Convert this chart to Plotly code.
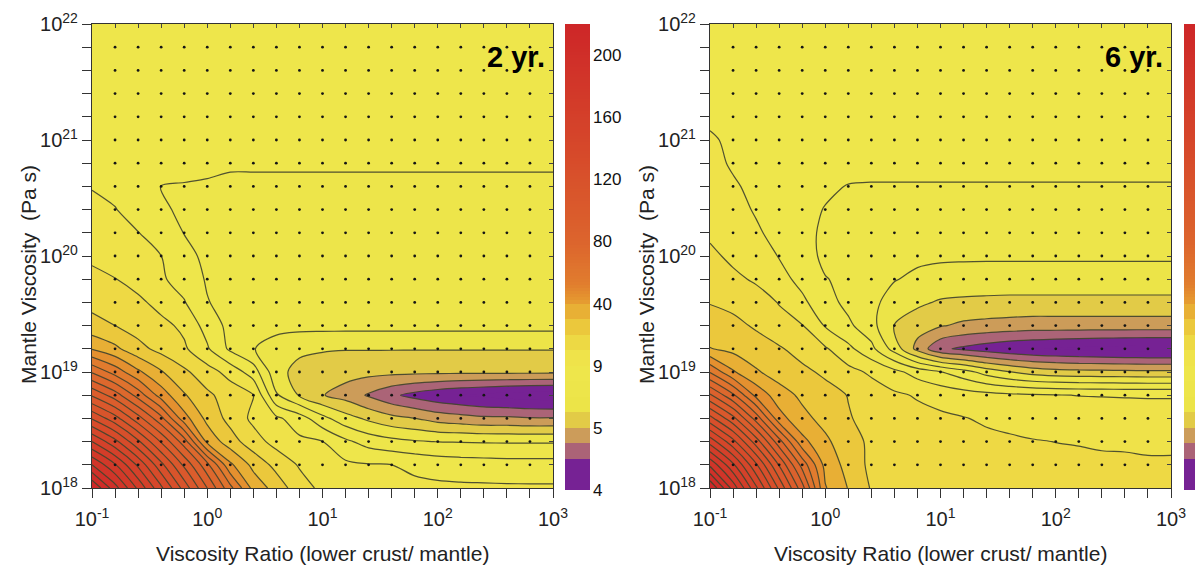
import numpy as np
import plotly.graph_objects as go

# Model grid: exponents of viscosity ratio (lower crust / mantle) and mantle viscosity (Pa s)
RATIO_EXP = [-1.0, -0.8, -0.6, -0.4, -0.2, 0.0, 0.2, 0.4, 0.6, 0.8, 1.0,
             1.2, 1.4, 1.6, 1.8, 2.0, 2.2, 2.4, 2.6, 2.8, 3.0]
MANTLE_EXP = [18.0, 18.2, 18.4, 18.6, 18.8, 19.0, 19.2, 19.4, 19.6, 19.8, 20.0,
              20.2, 20.4, 20.6, 20.8, 21.0, 21.2, 21.4, 21.6, 21.8, 22.0]

# Colour-bar anchor values (equally spaced on the bar)
CBAR_VALUES = [4, 5, 9, 40, 80, 120, 160, 200]

# Misfit after 2 years, rows = mantle viscosity (low -> high), cols = viscosity ratio (low -> high)
MISFIT_2YR = [
    [220, 194, 168, 142, 116, 90, 63, 37.5, 29, 20, 15, 12.5, 11.5, 11, 10.7, 10.5, 10.3, 10.2, 10.1, 10, 10],
    [190, 171, 148, 123, 98, 73, 42, 30, 22, 16, 12.5, 10.5, 9.5, 9.0, 8.8, 8.6, 8.5, 8.45, 8.4, 8.4, 8.4],
    [160, 143, 122, 99, 75, 38, 28, 20, 14, 10.5, 9.1, 8.2, 7.6, 7.3, 7.1, 6.98, 6.95, 6.92, 6.9, 6.9, 6.9],
    [129, 114, 94, 73, 44, 30, 22, 15, 10.5, 8.5, 7.3, 6.4, 5.8, 5.3, 5.02, 4.9, 4.85, 4.8, 4.8, 4.77, 4.77],
    [99, 85, 66, 45.5, 33, 26, 21, 17, 7.1, 5.9, 5.05, 4.9, 4.72, 4.55, 4.42, 4.32, 4.25, 4.2, 4.15, 4.12, 4.1],
    [69, 56, 42, 33, 26, 20, 14, 8.5, 6.3, 5.7, 5.45, 5.35, 5.3, 5.25, 5.22, 5.2, 5.2, 5.2, 5.2, 5.2, 5.2],
    [39.5, 34, 27, 22, 18, 10, 7.8, 7.05, 6.5, 6.2, 6.1, 6.05, 6.05, 6.05, 6.05, 6.05, 6.05, 6.05, 6.05, 6.05, 6.05],
    [27, 24.5, 21, 19, 15, 8.6, 7.7, 7.45, 7.35, 7.3, 7.3, 7.3, 7.3, 7.3, 7.3, 7.3, 7.3, 7.3, 7.3, 7.3, 7.3],
    [22.5, 21, 18.5, 14, 9.5, 8.05, 7.65, 7.55, 7.5, 7.5, 7.5, 7.5, 7.5, 7.5, 7.5, 7.5, 7.5, 7.5, 7.5, 7.5, 7.5],
    [18.5, 17, 13.5, 10, 8.6, 7.9, 7.7, 7.6, 7.6, 7.6, 7.6, 7.6, 7.6, 7.6, 7.6, 7.6, 7.6, 7.6, 7.6, 7.6, 7.6],
    [15.5, 13, 10.5, 9.05, 8.2, 7.85, 7.72, 7.68, 7.68, 7.68, 7.68, 7.68, 7.68, 7.68, 7.68, 7.68, 7.68, 7.68, 7.68, 7.68, 7.68],
    [13, 11, 9.2, 8.5, 7.98, 7.8, 7.75, 7.75, 7.75, 7.75, 7.75, 7.75, 7.75, 7.75, 7.75, 7.75, 7.75, 7.75, 7.75, 7.75, 7.75],
    [11, 9.3, 8.6, 8.1, 7.88, 7.84, 7.82, 7.82, 7.82, 7.82, 7.82, 7.82, 7.82, 7.82, 7.82, 7.82, 7.82, 7.82, 7.82, 7.82, 7.82],
    [8.95, 8.75, 8.4, 7.99, 7.97, 7.95, 7.92, 7.92, 7.92, 7.92, 7.92, 7.92, 7.92, 7.92, 7.92, 7.92, 7.92, 7.92, 7.92, 7.92, 7.92],
    [8.85, 8.7, 8.5, 8.25, 8.15, 8.1, 8.05, 8.05, 8.05, 8.05, 8.05, 8.05, 8.05, 8.05, 8.05, 8.05, 8.05, 8.05, 8.05, 8.05, 8.05],
    [8.8, 8.7, 8.5, 8.3, 8.3, 8.3, 8.3, 8.3, 8.3, 8.3, 8.3, 8.3, 8.3, 8.3, 8.3, 8.3, 8.3, 8.3, 8.3, 8.3, 8.3],
    [8.8, 8.7, 8.6, 8.5, 8.5, 8.5, 8.5, 8.5, 8.5, 8.5, 8.5, 8.5, 8.5, 8.5, 8.5, 8.5, 8.5, 8.5, 8.5, 8.5, 8.5],
    [8.8, 8.7, 8.6, 8.5, 8.5, 8.5, 8.5, 8.5, 8.5, 8.5, 8.5, 8.5, 8.5, 8.5, 8.5, 8.5, 8.5, 8.5, 8.5, 8.5, 8.5],
    [8.8, 8.7, 8.6, 8.5, 8.5, 8.5, 8.5, 8.5, 8.5, 8.5, 8.5, 8.5, 8.5, 8.5, 8.5, 8.5, 8.5, 8.5, 8.5, 8.5, 8.5],
    [8.8, 8.7, 8.6, 8.5, 8.5, 8.5, 8.5, 8.5, 8.5, 8.5, 8.5, 8.5, 8.5, 8.5, 8.5, 8.5, 8.5, 8.5, 8.5, 8.5, 8.5],
    [8.8, 8.7, 8.6, 8.5, 8.5, 8.5, 8.5, 8.5, 8.5, 8.5, 8.5, 8.5, 8.5, 8.5, 8.5, 8.5, 8.5, 8.5, 8.5, 8.5, 8.5],
]

# Misfit after 6 years
MISFIT_6YR = [
    [220, 186, 152, 118, 84, 40.8, 31.9, 23.9, 21.4, 20.5, 19.85, 19.5, 19.2, 19.2, 19.0, 19.0, 18.9, 18.9, 18.9, 18.9, 18.9],
    [188, 162, 131.6, 99.2, 66.4, 37.5, 29.5, 22.6, 20.8, 19.85, 19.2, 18.9, 18.6, 18.3, 18.3, 18.0, 18.0, 17.7, 17.7, 17.4, 17.4],
    [156, 133.2, 105.2, 74, 43.2, 33.8, 27.6, 23.0, 20.8, 19.85, 19.2, 18.6, 18.3, 17.7, 17.06, 16.69, 16.44, 16.13, 15.98, 15.8, 15.8],
    [123.6, 103.2, 76, 44, 34.4, 29.8, 25.1, 22.0, 20.2, 18.9, 18.0, 17.06, 15.8, 14.9, 14.3, 13.65, 13.3, 13.0, 12.7, 12.7, 12.7],
    [91.6, 72, 47.2, 35.7, 30.7, 27.6, 24.2, 20.8, 18.0, 16.1, 14.3, 12.7, 11.5, 10.55, 9.93, 9.31, 8.98, 8.96, 8.94, 8.92, 8.92],
    [59.2, 41.2, 33.2, 28.8, 26.4, 23.0, 19.2, 15.5, 11.2, 8.6, 8.04, 7.4, 6.6, 6.04, 5.6, 5.4, 5.32, 5.28, 5.24, 5.2, 5.2],
    [32.6, 30.1, 27.6, 25.4, 21.4, 17.7, 10.9, 8.28, 6.6, 4.92, 4.55, 4.45, 4.37, 4.3, 4.26, 4.23, 4.2, 4.18, 4.16, 4.15, 4.15],
    [27.6, 26.4, 23.6, 19.2, 17.1, 8.92, 8.2, 7.36, 5.92, 5.4, 5.08, 4.95, 4.92, 4.9, 4.88, 4.88, 4.88, 4.88, 4.88, 4.88, 4.88],
    [24.2, 22.6, 19.85, 16.4, 10.55, 8.4, 7.72, 7.2, 6.68, 6.2, 5.88, 5.8, 5.76, 5.72, 5.72, 5.72, 5.72, 5.72, 5.72, 5.72, 5.72],
    [20.5, 18.3, 15.8, 11.5, 8.72, 8.04, 7.8, 7.4, 7.04, 6.84, 6.72, 6.64, 6.6, 6.6, 6.6, 6.6, 6.6, 6.6, 6.6, 6.6, 6.6],
    [18.3, 15.2, 12.1, 8.96, 8.4, 7.8, 7.48, 7.32, 7.24, 7.16, 7.12, 7.12, 7.12, 7.12, 7.12, 7.12, 7.12, 7.12, 7.12, 7.12, 7.12],
    [15.5, 12.7, 9.93, 8.72, 8.2, 7.88, 7.68, 7.56, 7.48, 7.44, 7.4, 7.4, 7.4, 7.4, 7.4, 7.4, 7.4, 7.4, 7.4, 7.4, 7.4],
    [13.65, 11.2, 8.92, 8.6, 8.28, 7.96, 7.8, 7.72, 7.68, 7.68, 7.68, 7.68, 7.68, 7.68, 7.68, 7.68, 7.68, 7.68, 7.68, 7.68, 7.68],
    [12.1, 9.62, 8.84, 8.6, 8.4, 8.16, 7.96, 7.92, 7.92, 7.92, 7.92, 7.92, 7.92, 7.92, 7.92, 7.92, 7.92, 7.92, 7.92, 7.92, 7.92],
    [10.55, 8.92, 8.76, 8.6, 8.52, 8.44, 8.36, 8.36, 8.36, 8.36, 8.36, 8.36, 8.36, 8.36, 8.36, 8.36, 8.36, 8.36, 8.36, 8.36, 8.36],
    [9.62, 8.88, 8.76, 8.6, 8.6, 8.6, 8.6, 8.6, 8.6, 8.6, 8.6, 8.6, 8.6, 8.6, 8.6, 8.6, 8.6, 8.6, 8.6, 8.6, 8.6],
    [8.88, 8.8, 8.72, 8.64, 8.6, 8.6, 8.6, 8.6, 8.6, 8.6, 8.6, 8.6, 8.6, 8.6, 8.6, 8.6, 8.6, 8.6, 8.6, 8.6, 8.6],
    [8.88, 8.8, 8.72, 8.64, 8.6, 8.6, 8.6, 8.6, 8.6, 8.6, 8.6, 8.6, 8.6, 8.6, 8.6, 8.6, 8.6, 8.6, 8.6, 8.6, 8.6],
    [8.88, 8.8, 8.72, 8.64, 8.6, 8.6, 8.6, 8.6, 8.6, 8.6, 8.6, 8.6, 8.6, 8.6, 8.6, 8.6, 8.6, 8.6, 8.6, 8.6, 8.6],
    [8.88, 8.8, 8.72, 8.64, 8.6, 8.6, 8.6, 8.6, 8.6, 8.6, 8.6, 8.6, 8.6, 8.6, 8.6, 8.6, 8.6, 8.6, 8.6, 8.6, 8.6],
    [8.88, 8.8, 8.72, 8.64, 8.6, 8.6, 8.6, 8.6, 8.6, 8.6, 8.6, 8.6, 8.6, 8.6, 8.6, 8.6, 8.6, 8.6, 8.6, 8.6, 8.6],
]

PANEL_LABELS = ["2 yr.", "6 yr."]

# ---------------------------------------------------------------- helpers
W, H = 1195, 572
FONT = "Liberation Sans, Arial, Helvetica, sans-serif"

# piecewise-linear stretch so that the colour-bar anchors are equally spaced
STRETCH_V = CBAR_VALUES + [240]
STRETCH_U = list(range(len(STRETCH_V)))


def to_bar(v):
    return np.interp(np.asarray(v, dtype=float), STRETCH_V, STRETCH_U)


LEV_START, LEV_END, LEV_SIZE = 0.0, 7.5, 0.25

# colour anchors along the stretched axis
COL_U = [0.0, 0.5, 0.55, 0.8, 1.05, 1.3, 2.0, 2.3, 2.55, 2.8, 3.05, 3.3, 4.0, 5.5, 7.6]
COL_RGB = [(118, 34, 148), (118, 34, 148), (160, 82, 128), (196, 140, 98), (222, 192, 70),
           (236, 228, 72), (239, 230, 76), (238, 222, 70), (236, 206, 62), (233, 186, 55),
           (229, 152, 48), (225, 126, 46), (220, 100, 45), (214, 72, 42), (205, 36, 40)]


def colour_at(u):
    r = np.interp(u, COL_U, [c[0] for c in COL_RGB])
    g = np.interp(u, COL_U, [c[1] for c in COL_RGB])
    b = np.interp(u, COL_U, [c[2] for c in COL_RGB])
    return f"rgb({r:.0f},{g:.0f},{b:.0f})"


# plotly maps colourscale position p to level value (p*nc - 0.5)*size + start for fills
NC = int(np.floor((LEV_END - LEV_START) / LEV_SIZE)) + 1
fill_scale = []
for p in np.linspace(0, 1, 241):
    u = (p * NC - 0.5) * LEV_SIZE + LEV_START
    fill_scale.append([float(p), colour_at(u)])

# plain linear scale over [LEV_START, LEV_END] for the colour bars
bar_scale = [[float(p), colour_at(LEV_START + p * (LEV_END - LEV_START))]
             for p in np.linspace(0, 1, 301)]
# discrete bands in the low range, a near-continuous ramp above the 40 anchor
bar_edges = np.concatenate([np.arange(LEV_START, 3.0, LEV_SIZE), np.arange(3.0, LEV_END + 1e-9, 0.05)])
bar_mid = 0.5 * (bar_edges[:-1] + bar_edges[1:])
low = bar_mid < 3.0
bar_mid[low] = np.floor(bar_mid[low] / LEV_SIZE) * LEV_SIZE + LEV_SIZE / 2

x_vals = [10 ** e for e in RATIO_EXP]
y_vals = [10 ** e for e in MANTLE_EXP]


def sup_label(e):
    return f"10<sup>{int(round(e))}</sup>" if abs(e - round(e)) < 1e-9 else ""


x_text = [sup_label(e) for e in RATIO_EXP]
y_text = [sup_label(e) for e in MANTLE_EXP]

# panel geometry in pixels
PANELS_X = [(92, 553), (710, 1171)]
TOP, BOTTOM = 24, 488
CBARS_X = [(565, 590), (1184, 1209)]
CBAR_TOP, CBAR_BOTTOM = 24, 490

fig = go.Figure()

for k, (data, label) in enumerate(zip([MISFIT_2YR, MISFIT_6YR], PANEL_LABELS)):
    xa = "x" if k == 0 else "x2"
    ya = "y" if k == 0 else "y2"
    z = to_bar(data)
    fig.add_trace(go.Contour(
        x=x_vals, y=y_vals, z=z, xaxis=xa, yaxis=ya,
        autocontour=False,
        contours=dict(start=LEV_START, end=LEV_END, size=LEV_SIZE,
                      coloring="fill", showlines=False),
        line=dict(width=0, smoothing=0.9),
        colorscale=fill_scale, showscale=False,
        hoverinfo="skip",
    ))
    fig.add_trace(go.Contour(
        x=x_vals, y=y_vals, z=z, xaxis=xa, yaxis=ya,
        autocontour=False,
        contours=dict(start=LEV_START + 2 * LEV_SIZE, end=LEV_END, size=LEV_SIZE,
                      coloring="none", showlines=True),
        line=dict(color="rgba(66,68,46,0.92)", width=1.2, smoothing=0.9),
        showscale=False, hoverinfo="skip",
    ))
    # interior model runs
    gx, gy = np.meshgrid(x_vals[1:-1], y_vals[1:-1])
    fig.add_trace(go.Scatter(
        x=gx.ravel(), y=gy.ravel(), xaxis=xa, yaxis=ya, mode="markers",
        marker=dict(size=2.8, color="#151515"), hoverinfo="skip", showlegend=False,
    ))
    # inward frame ticks on the top and right edges
    txa = "x5" if k == 0 else "x6"
    tya = "y5" if k == 0 else "y6"
    fig.add_trace(go.Scatter(
        x=[x_vals[10]], y=[y_vals[10]], xaxis=txa, yaxis=tya, mode="markers",
        marker=dict(size=1, opacity=0), hoverinfo="skip", showlegend=False,
    ))

    # colour bar drawn as a one-column heatmap
    cxa = "x3" if k == 0 else "x4"
    cya = "y3" if k == 0 else "y4"
    fig.add_trace(go.Heatmap(
        x=[-0.5, 0.5], y=bar_edges, z=[[c] for c in bar_mid], xaxis=cxa, yaxis=cya,
        colorscale=bar_scale, zmin=LEV_START, zmax=LEV_END, showscale=False,
        hoverinfo="skip",
    ))

    left, right = PANELS_X[k]
    fig.add_annotation(
        text=f"<b>{label}</b>", x=(right - 6) / W, y=1 - 57 / H, xref="paper", yref="paper",
        xanchor="right", yanchor="middle", showarrow=False,
        font=dict(family=FONT, size=29, color="#000"),
    )
    fig.add_annotation(
        text="Viscosity Ratio (lower crust/ mantle)", x=(left + right) / 2 / W, y=1 - 553 / H,
        xref="paper", yref="paper", xanchor="center", yanchor="middle", showarrow=False,
        font=dict(family=FONT, size=21, color="#222"),
    )
    fig.add_annotation(
        text="Mantle Viscosity  (Pa s)", x=(left - 64) / W, y=1 - 275 / H,
        xref="paper", yref="paper", xanchor="center", yanchor="middle", showarrow=False,
        textangle=-90, font=dict(family=FONT, size=21, color="#222"),
    )

axis_common = dict(
    type="log", ticks="outside", ticklen=9, tickwidth=1.2, tickcolor="#333",
    showline=True, linecolor="#333", linewidth=1.3, mirror=True,
    showgrid=False, zeroline=False, automargin=False,
    tickfont=dict(family=FONT, size=20, color="#222"),
)
inner_ticks = dict(
    type="log", ticks="inside", ticklen=4, tickwidth=1, tickcolor="#444",
    showline=False, showgrid=False, zeroline=False, showticklabels=False,
    automargin=False, fixedrange=True,
)

for k in range(2):
    left, right = PANELS_X[k]
    sfx = "" if k == 0 else "2"
    fig.update_layout(**{
        f"xaxis{sfx}": dict(axis_common, range=[-1, 3], domain=[left / W, right / W],
                            anchor=f"y{sfx}", tickvals=x_vals, ticktext=x_text,
                            ticklabelstandoff=4),
        f"yaxis{sfx}": dict(axis_common, range=[18, 22], domain=[1 - BOTTOM / H, 1 - TOP / H],
                            anchor=f"x{sfx}", tickvals=y_vals, ticktext=y_text),
    })
    tx = "xaxis5" if k == 0 else "xaxis6"
    ty = "yaxis5" if k == 0 else "yaxis6"
    fig.update_layout(**{
        tx: dict(inner_ticks, range=[-1, 3], overlaying="x" if k == 0 else "x2",
                 side="top", anchor="y5" if k == 0 else "y6", tickvals=x_vals),
        ty: dict(inner_ticks, range=[18, 22], overlaying="y" if k == 0 else "y2",
                 side="right", anchor="x5" if k == 0 else "x6", tickvals=y_vals),
    })
    c0, c1 = CBARS_X[k]
    c1 = min(c1, W)
    cx = "xaxis3" if k == 0 else "xaxis4"
    cy = "yaxis3" if k == 0 else "yaxis4"
    fig.update_layout(**{
        cx: dict(domain=[c0 / W, c1 / W], anchor="y3" if k == 0 else "y4",
                 range=[-0.5, 0.5], visible=False, automargin=False, fixedrange=True),
        cy: dict(domain=[1 - CBAR_BOTTOM / H, 1 - CBAR_TOP / H], anchor="x3" if k == 0 else "x4",
                 range=[LEV_START, LEV_END], side="right", showline=False, showgrid=False,
                 zeroline=False, ticks="", automargin=False, fixedrange=True,
                 tickvals=list(range(len(CBAR_VALUES))),
                 ticktext=[str(v) for v in CBAR_VALUES],
                 showticklabels=(k == 0), ticklabelstandoff=2,
                 tickfont=dict(family=FONT, size=17, color="#111")),
    })

fig.update_layout(
    width=W, height=H, margin=dict(l=0, r=0, t=0, b=0),
    paper_bgcolor="white", plot_bgcolor="white", showlegend=False,
)

fig.write_html("out.html")
